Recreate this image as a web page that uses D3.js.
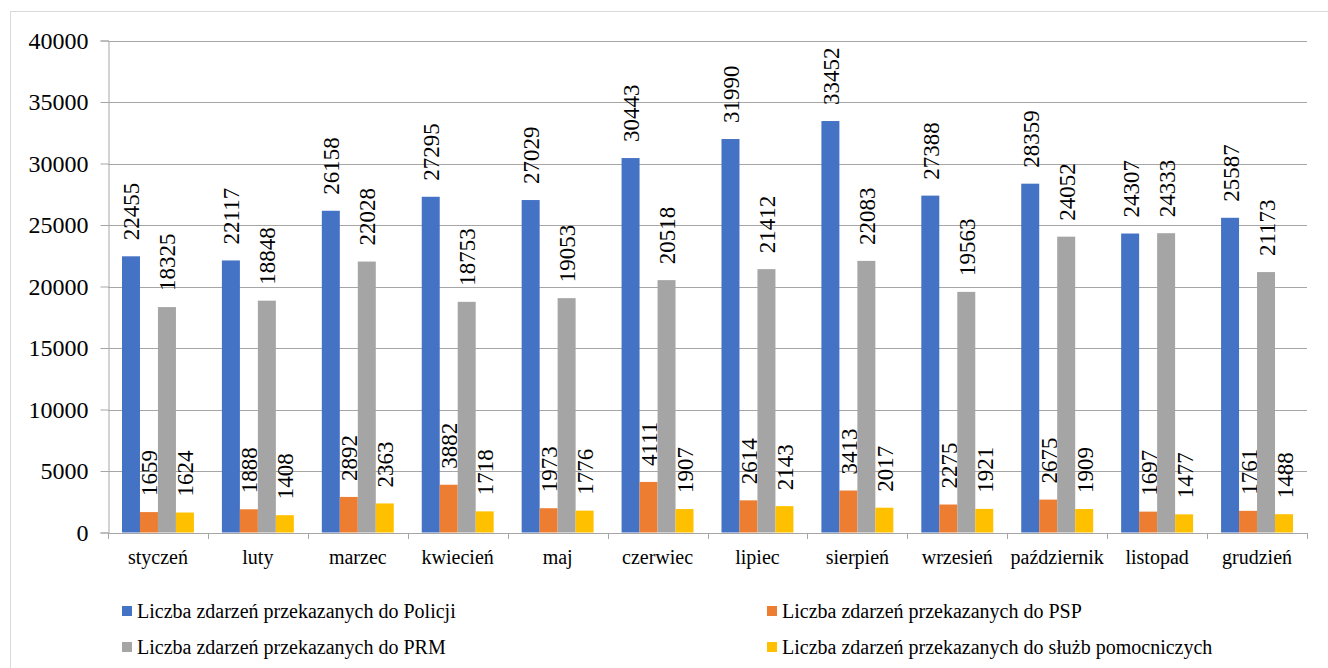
<!DOCTYPE html>
<html><head><meta charset="utf-8">
<script src="https://cdn.jsdelivr.net/npm/d3@7/dist/d3.min.js"></script>
<style>body{margin:0;background:#fff}svg{display:block}</style>
</head><body><svg id="c" width="1328" height="668" style="font-family:'Liberation Serif'"></svg>
<script>
const categories = ["styczeń","luty","marzec","kwiecień","maj","czerwiec","lipiec","sierpień","wrzesień","październik","listopad","grudzień"];
const seriesNames = ["Liczba zdarzeń przekazanych do Policji","Liczba zdarzeń przekazanych do PSP","Liczba zdarzeń przekazanych do PRM","Liczba zdarzeń przekazanych do służb pomocniczych"];
const policja = [22455,22117,26158,27295,27029,30443,31990,33452,27388,28359,24307,25587];
const psp = [1659,1888,2892,3882,1973,4111,2614,3413,2275,2675,1697,1761];
const prm = [18325,18848,22028,18753,19053,20518,21412,22083,19563,24052,24333,21173];
const pomocnicze = [1624,1408,2363,1718,1776,1907,2143,2017,1921,1909,1477,1488];
const yTicks = [0,5000,10000,15000,20000,25000,30000,35000,40000];
const colors = ["#4472C4","#ED7D31","#A5A5A5","#FFC000"];
const series = [policja, psp, prm, pomocnicze];
const FONT = '"Liberation Serif"';

const svg = d3.select("#c");
const m = {l:108, r:1307, t:40.5, b:532.5};
svg.append("rect").attr("x",10.5).attr("y",11.5).attr("width",1330).attr("height",680)
  .attr("fill","#fff").attr("stroke","#d9d9d9").attr("stroke-width",1);

const x = d3.scaleBand().domain(categories).range([m.l,m.r]).paddingInner(0.28).paddingOuter(0.14);
const xs = d3.scaleBand().domain(d3.range(4)).range([0,x.bandwidth()]);
const y = d3.scaleLinear().domain([0,40000]).range([m.b,m.t]);

function txt(sel, size){
  return sel.attr("font-family","Liberation Serif").style("font-family",FONT)
    .attr("font-size",size).style("font-size",size+"px").attr("fill","#000");
}

// gridlines
svg.append("g").selectAll("line").data(yTicks).join("line")
  .attr("x1",m.l).attr("x2",m.r).attr("y1",d=>Math.round(y(d))+0.5).attr("y2",d=>Math.round(y(d))+0.5)
  .attr("stroke","#a6a6a6").attr("stroke-width",1);

// y axis
const ya = svg.append("g").attr("transform",`translate(${m.l+0.5},0)`)
  .call(d3.axisLeft(y).tickValues(yTicks).tickSize(8).tickPadding(12).tickFormat(d3.format("d")));
ya.attr("font-family","Liberation Serif").attr("font-size",24);
ya.select(".domain").attr("stroke","#a6a6a6");
ya.selectAll(".tick line").attr("stroke","#a6a6a6");
txt(ya.selectAll(".tick text"), 24);

// bars
const g = svg.append("g");
series.forEach((vals,si)=>{
  g.append("g").selectAll("rect").data(vals).join("rect")
    .attr("x",(d,i)=>x(categories[i])+xs(si))
    .attr("width",xs.bandwidth())
    .attr("y",d=>y(d)).attr("height",d=>y(0)-y(d))
    .attr("fill",colors[si]);
  txt(g.append("g").selectAll("text").data(vals).join("text"), 23)
    .attr("transform",(d,i)=>`translate(${x(categories[i])+xs(si)+xs.bandwidth()/2+1},${y(d)-16}) rotate(-90)`)
    .attr("dominant-baseline","central")
    .text(d=>d);
});

// x axis
svg.append("line").attr("x1",m.l).attr("x2",m.r).attr("y1",Math.round(y(0))+0.5).attr("y2",Math.round(y(0))+0.5).attr("stroke","#a6a6a6");
const bounds = d3.range(categories.length+1).map(i=>m.l + i*(m.r-m.l)/categories.length);
svg.append("g").selectAll("line").data(bounds).join("line")
  .attr("x1",d=>Math.round(d)+0.5).attr("x2",d=>Math.round(d)+0.5)
  .attr("y1",Math.round(y(0))).attr("y2",Math.round(y(0))+6).attr("stroke","#a6a6a6");
txt(svg.append("g").selectAll("text").data(categories).join("text"), 20)
  .attr("x",d=>x(d)+x.bandwidth()/2).attr("y",564).attr("text-anchor","middle").text(d=>d);

// legend
const legPos = [[122,611],[767,611],[122,647],[767,647]];
const lg = svg.append("g");
seriesNames.forEach((n,i)=>{
  const [lx,ly] = legPos[i];
  lg.append("rect").attr("x",lx).attr("y",ly-5).attr("width",10).attr("height",10).attr("fill",colors[i]);
  txt(lg.append("text"), 20).attr("x",lx+15).attr("y",ly).attr("dominant-baseline","central").text(n);
});
</script></body></html>
